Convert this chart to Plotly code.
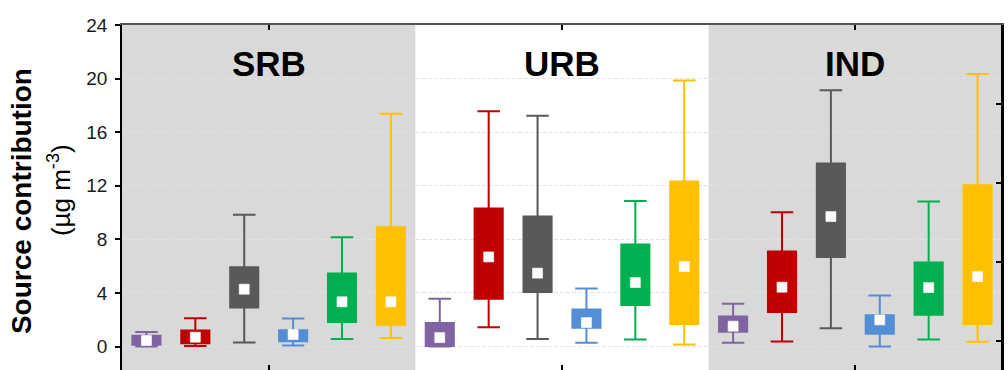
import plotly.graph_objects as go

# Sites (panels) and source factors
sites = ["SRB", "URB", "IND"]
sources = ["Factor 1", "Factor 2", "Factor 3", "Factor 4", "Factor 5", "Factor 6"]
colors = ["#8064a2", "#c00000", "#595959", "#558ed5", "#00b050", "#ffc000"]

# Box statistics per source, one value per site (SRB, URB, IND), in µg m-3
lower = [
    [0.00, 0.00, 0.28],
    [0.05, 1.45, 0.37],
    [0.30, 0.57, 1.37],
    [0.07, 0.28, 0.00],
    [0.57, 0.52, 0.52],
    [0.63, 0.15, 0.35],
]
q1 = [
    [0.13, 0.05, 1.10],
    [0.25, 3.56, 2.57],
    [2.91, 4.08, 6.69],
    [0.40, 1.40, 0.95],
    [1.84, 3.11, 2.37],
    [1.62, 1.69, 1.69],
]
q3 = [
    [0.80, 1.75, 2.24],
    [1.19, 10.30, 7.09],
    [5.92, 9.70, 13.66],
    [1.22, 2.76, 2.34],
    [5.45, 7.61, 6.27],
    [8.91, 12.31, 12.04],
]
upper = [
    [1.08, 3.56, 3.19],
    [2.12, 17.57, 10.03],
    [9.83, 17.22, 19.13],
    [2.09, 4.33, 3.81],
    [8.16, 10.87, 10.82],
    [17.37, 19.85, 20.35],
]
center = [
    [0.45, 0.67, 1.52],
    [0.70, 6.69, 4.43],
    [4.28, 5.48, 9.70],
    [0.90, 1.79, 1.99],
    [3.34, 4.78, 4.40],
    [3.34, 5.97, 5.22],
]

n_src = len(sources)
slot = 1.0 / n_src
box_width = slot * 0.575

fig = go.Figure()

for k, name in enumerate(sources):
    # position of this source's box inside each site panel
    xs = [i - 0.5 + (k + 0.5) * slot for i in range(len(sites))]
    fig.add_trace(go.Box(
        name=name,
        x=xs,
        q1=q1[k],
        median=center[k],
        q3=q3[k],
        lowerfence=lower[k],
        upperfence=upper[k],
        width=box_width,
        whiskerwidth=0.8,
        fillcolor=colors[k],
        line=dict(color=colors[k], width=2),
        boxpoints=False,
        hoverinfo="skip",
        showlegend=False,
    ))
    fig.add_trace(go.Scatter(
        x=xs,
        y=center[k],
        mode="markers",
        marker=dict(symbol="square", size=10, color="white",
                    line=dict(color="rgba(255,255,255,0.6)", width=1)),
        hoverinfo="skip",
        showlegend=False,
    ))

# placeholder (no visible point) so the right-hand tick axis is drawn
fig.add_trace(go.Scatter(x=[0], y=[None], yaxis="y2", mode="markers",
                         showlegend=False, hoverinfo="skip"))

# Grey shading behind the first and last panels
shapes = []
for i in (0, 2):
    shapes.append(dict(
        type="rect", xref="x", yref="paper",
        x0=i - 0.5, x1=i + 0.5, y0=0, y1=1,
        fillcolor="#d9d9d9", line=dict(width=0), layer="below",
    ))
# right-hand frame edge
shapes.append(dict(
    type="line", xref="paper", yref="paper", x0=1, x1=1, y0=0, y1=1,
    line=dict(color="black", width=2), layer="above",
))

# Panel headings
annotations = []
for i, s in enumerate(sites):
    annotations.append(dict(
        x=i, y=21.1, xref="x", yref="y", text=s, showarrow=False,
        font=dict(family="Liberation Sans, Arial", size=35, color="black", weight="bold"),
        xanchor="center", yanchor="middle",
    ))

# Y axis title in two lines
annotations.append(dict(
    x=-0.1135, y=0.49, xref="paper", yref="paper",
    text="<b>Source contribution</b>", textangle=-90, showarrow=False,
    font=dict(family="Liberation Sans, Arial", size=28, color="black"),
    xanchor="center", yanchor="middle",
))
annotations.append(dict(
    x=-0.071, y=0.52, xref="paper", yref="paper",
    text="(µg m<sup>-3</sup>)", textangle=-90, showarrow=False,
    font=dict(family="Liberation Sans, Arial", size=26, color="black"),
    xanchor="center", yanchor="middle",
))

fig.update_layout(
    width=1008, height=370,
    margin=dict(l=122, r=6, t=25, b=0),
    paper_bgcolor="white",
    plot_bgcolor="white",
    showlegend=False,
    shapes=shapes,
    annotations=annotations,
    xaxis=dict(
        range=[-0.5, len(sites) - 0.5],
        tickvals=list(range(len(sites))),
        showticklabels=False,
        ticks="inside", ticklen=5, tickcolor="black", tickwidth=1.5,
        showline=True, linecolor="#555555", linewidth=2, mirror="ticks",
        showgrid=False, zeroline=False,
    ),
    yaxis=dict(
        range=[-1.75, 24],
        tickvals=[0, 4, 8, 12, 16, 20, 24],
        ticks="outside", ticklen=5, tickcolor="black", tickwidth=1.5,
        ticklabelstandoff=4,
        showline=True, linecolor="black", linewidth=1.5,
        tickfont=dict(family="Liberation Sans, Arial", size=19, color="#1a1a1a"),
        showgrid=True, gridcolor="#e2e2e2", gridwidth=1, griddash="4px,2px",
        zeroline=False,
    ),
    yaxis2=dict(
        overlaying="y", side="right",
        range=[-0.369, 3.995], dtick=1,
        ticks="inside", ticklen=6, tickcolor="black", tickwidth=2,
        showticklabels=False, showgrid=False, zeroline=False,
        showline=True, linecolor="black", linewidth=2,
    ),
)

fig.write_html("out.html")
